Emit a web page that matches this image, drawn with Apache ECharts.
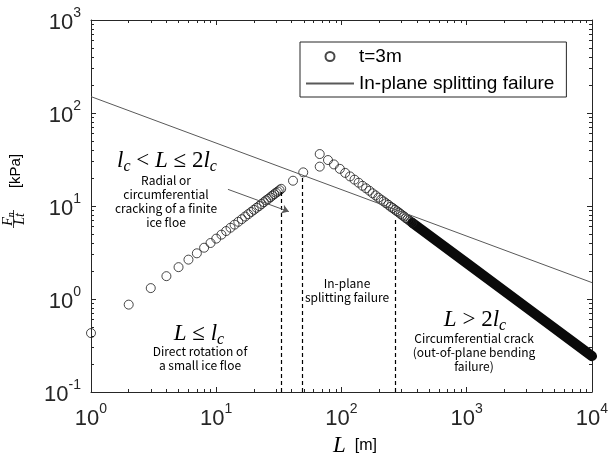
<!DOCTYPE html>
<html>
<head>
<meta charset="utf-8">
<script src="https://cdn.jsdelivr.net/npm/echarts@6/dist/echarts.min.js"></script>
<style>
  html, body { margin: 0; padding: 0; background: #fff; }
  #chart { width: 611px; height: 459px; }
</style>
</head>
<body>
<div id="chart"></div>
<script>
// L <= 2lc branch (rising part)
const riseL = [1, 2, 3, 4, 5, 6, 7, 8, 9, 10, 11, 12, 13, 14, 15, 16, 17, 18, 19, 20,
  21, 22, 23, 24, 25, 26, 27, 28, 29, 30, 31, 32, 33, 41, 49.5];
const riseY = [0.43, 0.87, 1.31, 1.76, 2.2, 2.65, 3.1, 3.56, 4.0, 4.46, 4.92, 5.38, 5.84, 6.3, 6.76, 7.22, 7.7, 8.16, 8.63, 9.1,
  9.57, 10.0, 10.5, 11.0, 11.5, 11.9, 12.4, 12.9, 13.4, 13.9, 14.3, 14.8, 15.3, 18.7, 23.0];
// falling part (out-of-plane bending)
const fallL = [67, 67, 78, 87, 97, 107, 117, 127, 137, 147, 157, 167, 177, 187, 197, 207, 217, 227, 237, 247,
  257, 267, 277, 287, 297, 307, 317, 327, 337, 347, 357, 367];
const fallY = [36.2, 26.5, 31.2, 28.0, 25.1, 22.7, 20.8, 19.2, 17.8, 16.5, 15.5, 14.6, 13.7, 13.0, 12.3, 11.7, 11.2, 10.7, 10.3, 9.8,
  9.5, 9.1, 8.8, 8.5, 8.2, 7.9, 7.7, 7.4, 7.2, 7.0, 6.8, 6.6];
// where markers are so dense they merge into a solid band
const bandL = [367, 1000, 3000, 10000];
const bandY = [6.6, 2.43, 0.81, 0.243];
// in-plane splitting failure line
const splitL = [1, 10000];
const splitY = [150, 1.5];
// dashed region borders
const dashL = [32.8, 48.3, 267];
const dashTop = [14.3, 21, 7.2];
const arrowFrom = [12.4, 15.1];
const arrowTo = [38, 8.7];

const xMajor = [1, 10, 100, 1000, 10000];
const xMinor = [2, 3, 4, 5, 6, 7, 8, 9, 20, 30, 40, 50, 60, 70, 80, 90,
  200, 300, 400, 500, 600, 700, 800, 900, 2000, 3000, 4000, 5000, 6000, 7000, 8000, 9000];
const yMajor = [0.1, 1, 10, 100, 1000];
const yMinor = [0.2, 0.3, 0.4, 0.5, 0.6, 0.7, 0.8, 0.9, 2, 3, 4, 5, 6, 7, 8, 9,
  20, 30, 40, 50, 60, 70, 80, 90, 200, 300, 400, 500, 600, 700, 800, 900];

const axisColor = '#262626';
const sans = '"Liberation Sans", Arial, sans-serif';
const serif = '"Liberation Serif", "DejaVu Serif", serif';
const note = '"Noto Sans CJK KR", "Noto Sans", sans-serif';

const chart = echarts.init(document.getElementById('chart'));

function powLabel(v) {
  const e = Math.round(Math.log10(v));
  return '{b|10}{s|' + e + '}';
}
const powRich = {
  b: { fontSize: 22, fontFamily: sans, color: axisColor, padding: [6, 0, 0, 0], verticalAlign: 'bottom' },
  s: { fontSize: 14, fontFamily: sans, color: axisColor, verticalAlign: 'top' }
};

function axis(min, max, pos, ticks, len, label, line) {
  return {
    type: 'log', logBase: 10, min: min, max: max, position: pos,
    axisLine: { show: line, onZero: false, lineStyle: { color: axisColor, width: 1 } },
    axisTick: { show: true, inside: true, length: len, customValues: ticks, lineStyle: { color: axisColor, width: 1 } },
    axisLabel: label ? { show: true, customValues: ticks, formatter: powLabel, rich: powRich, margin: 10 } : { show: false },
    splitLine: { show: false },
    minorTick: { show: false }
  };
}

const pts = riseL.map((l, i) => [l, riseY[i]]).concat(fallL.map((l, i) => [l, fallY[i]]));
const band = bandL.map((l, i) => [l, bandY[i]]);
const split = splitL.map((l, i) => [l, splitY[i]]);
const dashes = dashL.map((l, i) => [{ coord: [l, 0.1] }, { coord: [l, dashTop[i]] }]);

const mathRich = {
  i: { fontFamily: serif, fontStyle: 'italic', fontSize: 23, fill: '#000', verticalAlign: 'top' },
  r: { fontFamily: serif, fontSize: 23, fill: '#000', verticalAlign: 'top' },
  sub: { fontFamily: serif, fontStyle: 'italic', fontSize: 16, fill: '#000', verticalAlign: 'bottom', padding: [10, 0, 0, 0] }
};

function mathText(str, x, y) {
  return { type: 'text', x: x, y: y, silent: true,
    style: { text: str, rich: mathRich, align: 'center', verticalAlign: 'middle' } };
}
function noteText(str, x, y) {
  return { type: 'text', x: x, y: y, silent: true,
    style: { text: str, fontFamily: note, fontSize: 12, lineHeight: 14, fill: '#000', align: 'center', verticalAlign: 'top' } };
}

chart.setOption({
  animation: false,
  grid: { left: 91, right: 19, top: 20, bottom: 67, outerBoundsMode: 'none', containLabel: false },
  xAxis: [
    axis(1, 10000, 'bottom', xMajor, 5, true, true),
    axis(1, 10000, 'bottom', xMinor, 3, false, false),
    axis(1, 10000, 'top', xMajor, 5, false, true),
    axis(1, 10000, 'top', xMinor, 3, false, false)
  ],
  yAxis: [
    axis(0.1, 1000, 'left', yMajor, 5, true, true),
    axis(0.1, 1000, 'left', yMinor, 3, false, false),
    axis(0.1, 1000, 'right', yMajor, 5, false, true),
    axis(0.1, 1000, 'right', yMinor, 3, false, false)
  ],
  legend: {
    data: ['t=3m', { name: 'In-plane splitting failure', itemStyle: { opacity: 0 } }],
    orient: 'vertical', left: 300, top: 42,
    itemWidth: 48, itemHeight: 9, itemGap: 8,
    padding: [5, 12, 4, 5],
    borderColor: axisColor, borderWidth: 1, backgroundColor: '#fff',
    selectedMode: false,
    textStyle: { fontSize: 19, fontFamily: sans, color: '#000' }
  },
  series: [
    {
      type: 'line', name: 'band', data: band, symbol: 'none', silent: true, z: 2,
      lineStyle: { width: 10, color: '#0a0a0a', cap: 'round' },
      markLine: {
        silent: true, symbol: 'none', label: { show: false },
        lineStyle: { type: [4, 3], color: '#000', width: 1.2 },
        data: dashes
      }
    },
    {
      type: 'scatter', name: 't=3m', data: pts, symbol: 'circle', symbolSize: 9, z: 3,
      itemStyle: { color: 'rgba(0,0,0,0)', borderColor: '#1a1a1a', borderWidth: 1 }
    },
    {
      type: 'line', name: 'In-plane splitting failure', data: split, symbol: 'none', z: 4,
      itemStyle: { color: '#595959' },
      lineStyle: { color: '#595959', width: 1 },
      markLine: {
        silent: true, symbol: ['none', 'arrow'], symbolSize: 7, label: { show: false },
        lineStyle: { type: 'solid', color: '#595959', width: 1 },
        data: [[{ coord: arrowFrom }, { coord: arrowTo }]]
      }
    }
  ],
  graphic: [
    mathText('{i|l}{sub|c}{r| < }{i|L}{r| ≤ 2}{i|l}{sub|c}', 167, 162),
    noteText('Radial or\ncircumferential\ncracking of a finite\nice floe', 166, 173),
    noteText('In-plane\nsplitting failure', 347, 276),
    mathText('{i|L}{r| ≤ }{i|l}{sub|c}', 199, 335),
    noteText('Direct rotation of\na small ice floe', 200, 344),
    mathText('{i|L}{r| > 2}{i|l}{sub|c}', 475, 321),
    noteText('Circumferential crack\n(out-of-plane bending\nfailure)', 474, 331),
    { type: 'text', x: 355, y: 446, silent: true,
      style: { text: '{i|L}{t|  [m]}', align: 'center', verticalAlign: 'middle',
        rich: {
          i: { fontFamily: serif, fontStyle: 'italic', fontSize: 23, fill: '#000' },
          t: { fontFamily: sans, fontSize: 16, fill: '#000' }
        } } },
    { type: 'group', x: 15, y: 190, rotation: Math.PI / 2, silent: true,
      children: [
        { type: 'text', x: 19, y: 0.5,
          style: { text: '[kPa]', fontFamily: sans, fontSize: 15, fill: '#000', align: 'center', verticalAlign: 'middle' } },
        { type: 'text', x: -29, y: -6.5,
          style: { text: '{i|F}{sub|n}', align: 'center', verticalAlign: 'middle',
            rich: {
              i: { fontFamily: serif, fontStyle: 'italic', fontSize: 14, fill: '#000', verticalAlign: 'top' },
              sub: { fontFamily: serif, fontStyle: 'italic', fontSize: 10, fill: '#000', verticalAlign: 'bottom', padding: [5, 0, 0, 0] }
            } } },
        { type: 'line', shape: { x1: -38, y1: -1.5, x2: -20, y2: -1.5 }, style: { stroke: '#000', lineWidth: 0.8 } },
        { type: 'text', x: -29, y: 5,
          style: { text: 'Lt', fontFamily: serif, fontStyle: 'italic', fontSize: 14, fill: '#000', align: 'center', verticalAlign: 'middle' } }
      ] }
  ]
});
</script>
</body>
</html>
